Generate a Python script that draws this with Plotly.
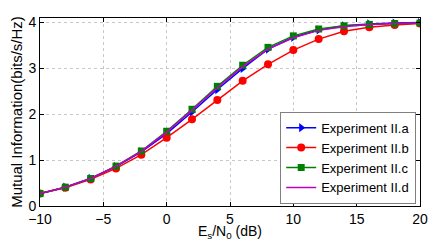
import plotly.graph_objects as go

snr = [-10, -8, -6, -4, -2, 0, 2, 4, 6, 8, 10, 12, 14, 16, 18, 20]
exp_a = [0.27, 0.41, 0.60, 0.86, 1.18, 1.58, 2.05, 2.54, 3.00, 3.42, 3.68, 3.84, 3.93, 3.97, 3.99, 4.00]
exp_b = [0.27, 0.40, 0.58, 0.82, 1.12, 1.49, 1.89, 2.31, 2.73, 3.09, 3.40, 3.64, 3.81, 3.90, 3.95, 3.98]
exp_c = [0.27, 0.41, 0.60, 0.87, 1.20, 1.63, 2.11, 2.61, 3.07, 3.46, 3.71, 3.86, 3.93, 3.96, 3.98, 3.99]
exp_d = [0.27, 0.41, 0.60, 0.87, 1.19, 1.61, 2.09, 2.58, 3.04, 3.42, 3.67, 3.83, 3.91, 3.96, 3.98, 3.99]
labels = ["Experiment II.a", "Experiment II.b", "Experiment II.c", "Experiment II.d"]
x_ticks = [-10, -5, 0, 5, 10, 15, 20]
y_ticks = [0, 1, 2, 3, 4]

fig = go.Figure()
fig.add_trace(go.Scatter(x=snr, y=exp_a, name=labels[0], mode="lines+markers",
                         line=dict(color="#0000ff", width=1.5),
                         marker=dict(symbol="triangle-right", size=8, color="#0000ff")))
fig.add_trace(go.Scatter(x=snr, y=exp_b, name=labels[1], mode="lines+markers",
                         line=dict(color="#ff0000", width=1.5),
                         marker=dict(symbol="circle", size=8, color="#ff0000")))
fig.add_trace(go.Scatter(x=snr, y=exp_c, name=labels[2], mode="lines+markers",
                         line=dict(color="#008000", width=1.5),
                         marker=dict(symbol="square", size=7, color="#008000")))
fig.add_trace(go.Scatter(x=snr, y=exp_d, name=labels[3], mode="lines",
                         line=dict(color="#bf00bf", width=1.5)))

axis_common = dict(showline=True, linecolor="black", linewidth=1, mirror="ticks",
                   ticks="inside", ticklen=4, tickcolor="black",
                   showgrid=True, gridcolor="#c8c8c8", griddash="dot", gridwidth=1,
                   zeroline=False, automargin=False, tickfont=dict(size=14, color="black"))

fig.update_xaxes(range=[-10, 20], tickvals=x_ticks,
                 ticktext=["\u221210", "\u22125", "0", "5", "10", "15", "20"],
                 title=dict(text="E<sub>s</sub>/N<sub>0</sub> (dB)", font=dict(size=14, color="black"), standoff=0),
                 **axis_common)
fig.update_yaxes(range=[0, 4.1], tickvals=y_ticks,
                 title=dict(text="Mutual Information(bits/s/Hz)", font=dict(size=15, color="black"), standoff=2),
                 **axis_common)

fig.update_layout(
    width=443, height=241,
    margin=dict(l=40, r=23, t=18, b=35),
    paper_bgcolor="white", plot_bgcolor="white",
    font=dict(family="Liberation Sans, Arial, sans-serif", size=13, color="black"),
    legend=dict(x=0.99, y=0.012, xanchor="right", yanchor="bottom",
                bgcolor="white", bordercolor="#808080", borderwidth=1,
                font=dict(size=13, color="black"),
                itemwidth=30, tracegroupgap=0),
    showlegend=True,
)

fig.write_html("out.html", config={"displayModeBar": False},
               post_script="document.body.style.margin='0';document.body.style.overflow='hidden';")
